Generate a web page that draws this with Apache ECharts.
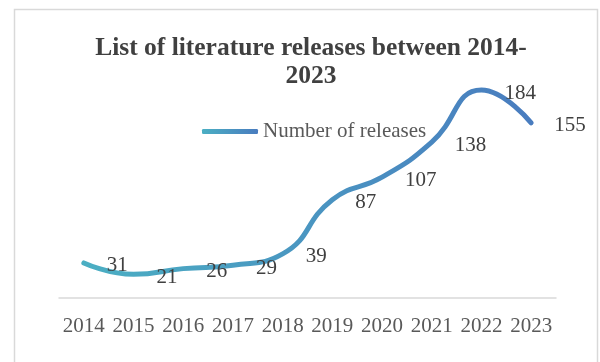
<!DOCTYPE html>
<html>
<head>
<meta charset="utf-8">
<script src="https://cdn.jsdelivr.net/npm/echarts@6/dist/echarts.min.js"></script>
<style>
  html, body { margin: 0; padding: 0; background: #fff; }
  #chart { width: 600px; height: 362px; }
</style>
</head>
<body>
<div id="chart"></div>
<script>
// Years on the category axis
const years = ['2014', '2015', '2016', '2017', '2018', '2019', '2020', '2021', '2022', '2023'];
// Number of literature releases per year
const releases = [31, 21, 26, 29, 39, 87, 107, 138, 184, 155];
const seriesName = 'Number of releases';
const titleText = 'List of literature releases between 2014-\n2023';

const serif = '"Liberation Serif", "Times New Roman", serif';

const lineGradient = new echarts.graphic.LinearGradient(0, 0, 1, 0, [
  { offset: 0, color: '#4BAFC3' },
  { offset: 1, color: '#497CBF' }
]);

const chart = echarts.init(document.getElementById('chart'), null, { renderer: 'canvas' });

chart.setOption({
  animation: false,
  backgroundColor: '#ffffff',
  graphic: [{
    type: 'rect',
    silent: true,
    shape: { x: 14.5, y: 9.5, width: 583, height: 420 },
    style: { fill: 'none', stroke: '#d9d9d9', lineWidth: 1.5 }
  }],
  title: {
    text: titleText,
    left: 306,
    top: 29,
    textAlign: 'center',
    textStyle: {
      fontFamily: serif,
      fontWeight: 'bold',
      fontSize: 25.5,
      lineHeight: 28,
      color: '#404040'
    }
  },
  legend: {
    left: 197,
    top: 116,
    icon: 'roundRect',
    itemWidth: 56,
    itemHeight: 5,
    itemGap: 10,
    itemStyle: { color: lineGradient },
    textStyle: { fontFamily: serif, fontSize: 21, color: '#595959' },
    data: [seriesName]
  },
  grid: { left: 59, right: 44, top: 72, bottom: 64 },
  xAxis: {
    type: 'category',
    data: years,
    boundaryGap: true,
    axisLine: { lineStyle: { color: '#d9d9d9', width: 1.5 } },
    axisTick: { show: false },
    axisLabel: { interval: 0, fontFamily: serif, fontSize: 21, color: '#595959', margin: 18 }
  },
  yAxis: {
    type: 'value',
    min: 0,
    max: 200,
    show: false,
    splitLine: { show: false }
  },
  series: [{
    name: seriesName,
    type: 'line',
    data: releases,
    smooth: 0.5,
    symbol: 'circle',
    symbolSize: 0,
    itemStyle: { color: lineGradient },
    lineStyle: { color: lineGradient, width: 5, cap: 'round' },
    label: {
      show: true,
      position: 'inside',
      align: 'left',
      offset: [23, 3],
      fontFamily: serif,
      fontSize: 21,
      color: '#404040'
    }
  }]
});
</script>
</body>
</html>
